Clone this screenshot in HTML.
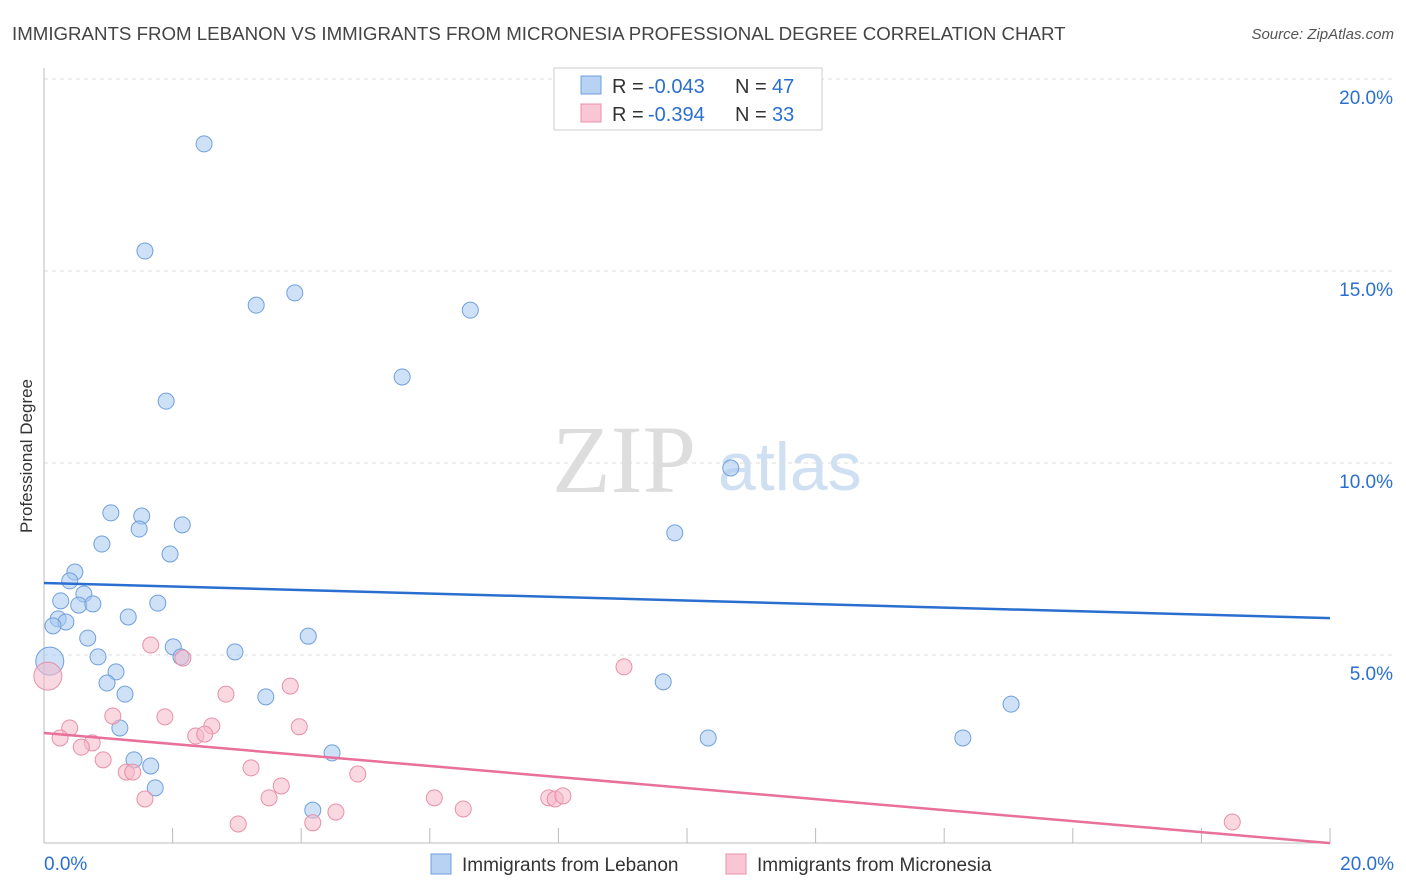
<!DOCTYPE html>
<html><head><meta charset="utf-8"><style>
body{margin:0;background:#fff;font-family:"Liberation Sans",sans-serif}
svg{display:block}
</style></head><body>
<svg id="chart" width="1406" height="892">
<text x="12" y="40" font-size="18.7" fill="#444">IMMIGRANTS FROM LEBANON VS IMMIGRANTS FROM MICRONESIA PROFESSIONAL DEGREE CORRELATION CHART</text>
<text x="1394" y="39" font-size="15" fill="#555" font-style="italic" text-anchor="end">Source: ZipAtlas.com</text>
<text x="32" y="456" font-size="17" fill="#333" text-anchor="middle" transform="rotate(-90 32 456)">Professional Degree</text>
<text x="552" y="492" font-size="96" fill="#ddd" font-family="Liberation Serif,serif">ZIP</text>
<text x="718" y="490" font-size="68" fill="#cfe0f3">atlas</text>
<g id="grid"></g><g id="axes"></g><g id="pts"></g><g id="lines"></g>
<g>
<rect x="554" y="68" width="268" height="62" fill="#fff" stroke="#ccc"/>
<rect x="581" y="76" width="20" height="18" fill="#b8d2f4" stroke="#6fa0dc"/>
<rect x="581" y="104" width="20" height="18" fill="#f8c6d4" stroke="#e890a8"/>
<text x="612" y="93" font-size="20" fill="#333">R =</text>
<text x="648" y="93" font-size="20" fill="#2a6fd0">-0.043</text>
<text x="735" y="93" font-size="20" fill="#333">N =</text>
<text x="772" y="93" font-size="20" fill="#2a6fd0">47</text>
<text x="612" y="121" font-size="20" fill="#333">R =</text>
<text x="648" y="121" font-size="20" fill="#2a6fd0">-0.394</text>
<text x="735" y="121" font-size="20" fill="#333">N =</text>
<text x="772" y="121" font-size="20" fill="#2a6fd0">33</text>
</g>
<g>
<rect x="431" y="854" width="20" height="20" fill="#b8d2f4" stroke="#6fa0dc"/>
<text x="462" y="871" font-size="19" fill="#333">Immigrants from Lebanon</text>
<rect x="726" y="854" width="20" height="20" fill="#f8c6d4" stroke="#e890a8"/>
<text x="757" y="871" font-size="19" fill="#333">Immigrants from Micronesia</text>
</g>
</svg>
<script>
const yTicks=[5,10,15,20];
const yTickLabels=["5.0%","10.0%","15.0%","20.0%"];
const xTickVals=[0,2,4,6,8,10,12,14,16,18,20];
const xEndLabels=["0.0%","20.0%"];
const blueX=[2.49,1.57,3.30,3.90,6.63,5.57,1.90,10.68,1.04,1.52,2.15,1.48,0.90,1.96,9.81,0.48,0.40,0.26,0.62,0.54,0.76,1.77,1.31,0.22,0.34,0.14,0.68,4.11,2.01,2.13,2.97,0.84,1.12,0.98,9.63,1.26,3.45,15.04,1.18,10.33,14.29,4.48,1.40,1.66,1.73,4.18,0.09];
const blueY=[18.31,15.52,14.11,14.43,13.98,12.24,11.61,9.87,8.70,8.62,8.39,8.28,7.89,7.63,8.18,7.16,6.93,6.41,6.59,6.30,6.33,6.35,5.99,5.94,5.86,5.76,5.44,5.49,5.21,4.95,5.08,4.95,4.56,4.27,4.30,3.98,3.91,3.72,3.10,2.84,2.84,2.45,2.27,2.11,1.54,0.96,4.84];
const pinkX=[0.06,1.66,2.16,9.02,2.83,3.83,1.07,1.88,0.40,2.61,3.97,0.25,2.36,2.50,0.75,0.58,0.92,3.22,1.28,1.38,4.88,3.69,1.57,3.50,6.07,6.52,7.85,7.95,8.07,4.54,4.18,3.02,18.48];
const pinkY=[4.45,5.26,4.92,4.69,3.98,4.19,3.41,3.39,3.10,3.15,3.13,2.84,2.89,2.94,2.71,2.60,2.27,2.06,1.95,1.95,1.90,1.59,1.25,1.28,1.28,0.99,1.28,1.25,1.33,0.91,0.63,0.60,0.65];
const blueTrend=[6.875,5.96];
const pinkTrend=[2.97,0.10];
const NS="http://www.w3.org/2000/svg";
const sx=v=>44+v*64.3, sy=v=>847-v*38.4;
function mk(tag,parent,attrs){const e=document.createElementNS(NS,tag);for(const k in attrs)e.setAttribute(k,attrs[k]);document.getElementById(parent).appendChild(e);return e;}
yTicks.forEach((t,i)=>{
 const g=mk('line','grid',{x1:44,x2:1394,y1:sy(t),y2:sy(t),stroke:'#ddd','stroke-dasharray':'4,4'});
 
 
 const l=mk('text','axes',{x:1393,y:sy(t)+25,'font-size':19,fill:'#2a6fd0','text-anchor':'end'});l.textContent=yTickLabels[i];
 
 
});
const ax=mk('line','axes',{x1:44,x2:44,y1:68,y2:843,stroke:'#bbb'});


const bx=mk('line','axes',{x1:44,x2:1330,y1:843,y2:843,stroke:'#bbb'});


xTickVals.forEach(t=>{
 const e=mk('line','axes',{x1:sx(t),x2:sx(t),y1:828,y2:843,stroke:'#bbb'});
 
 
});
[[0,'start',44],[20,'end',1394]].forEach((d,i)=>{
 const l=mk('text','axes',{x:d[2],y:870,'font-size':19,fill:'#2a6fd0','text-anchor':d[1]});l.textContent=xEndLabels[i];
 
 
});
function pts(X,Y,fill,stroke,name){X.forEach((x,i)=>{
 const big=(x<0.1);
 const c=mk('circle','pts',{cx:sx(x),cy:sy(Y[i]),r:big?14:8,fill:fill,'fill-opacity':0.55,stroke:stroke,'stroke-width':1});
 
 
});}
pts(blueX,blueY,'#a8c8f0','#6fa0dc','lebanon-point');
pts(pinkX,pinkY,'#f5b8c8','#e890a8','micronesia-point');
const t1=mk('line','lines',{x1:sx(0),x2:sx(20),y1:sy(blueTrend[0]),y2:sy(blueTrend[1]),stroke:'#2a6fd0','stroke-width':2.5});


const t2=mk('line','lines',{x1:sx(0),x2:sx(20),y1:sy(pinkTrend[0]),y2:sy(pinkTrend[1]),stroke:'#e8709a','stroke-width':2.5});


</script>
</body></html>
